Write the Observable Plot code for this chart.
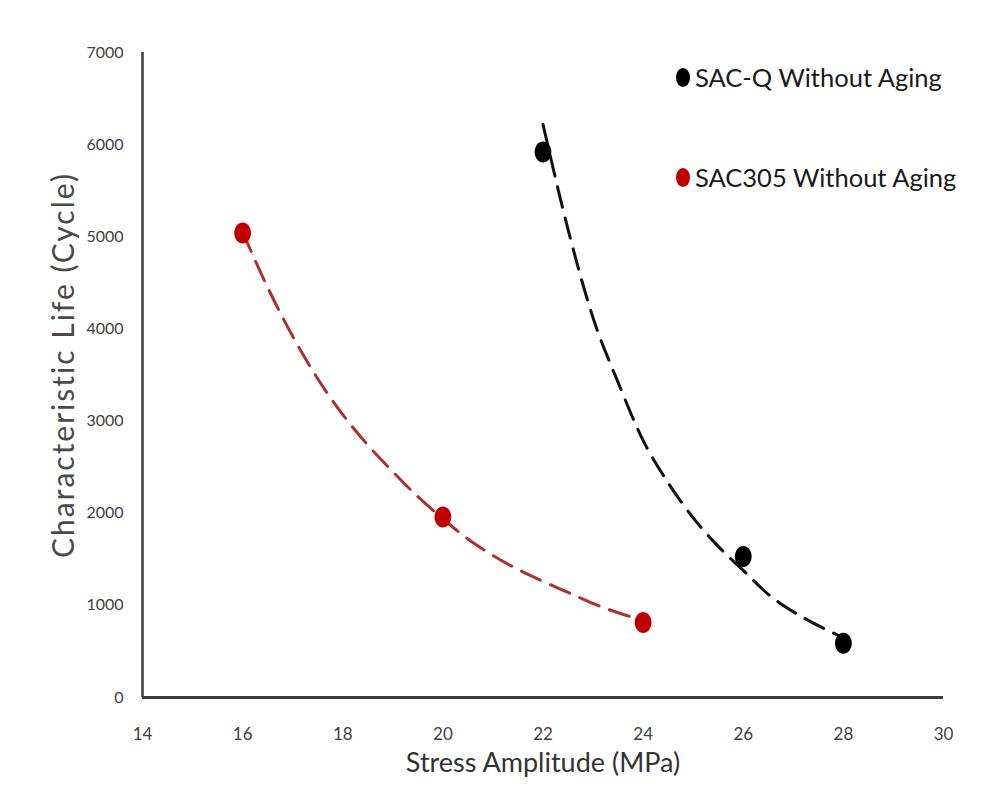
<!DOCTYPE html>
<html>
<head>
<meta charset="utf-8">
<script src="https://cdn.jsdelivr.net/npm/d3@7"></script>
<script src="https://cdn.jsdelivr.net/npm/@observablehq/plot@0.6"></script>
<style>
  html, body { margin: 0; padding: 0; background: #fff; }
  #wrap { position: relative; width: 988px; height: 793px; font-family: Lato, "Open Sans", sans-serif; }
  .leg { position: absolute; display: flex; align-items: center; font-size: 25.5px; color: #1a1a1a; white-space: nowrap; }
  .leg span.sw { display: inline-block; width: 14px; height: 19px; border-radius: 50%; margin-right: 5px; }
</style>
</head>
<body>
<div id="wrap"></div>
<script>
// Measured points
const sacqX = [22, 26, 28];
const sacqY = [5920, 1530, 590];
const sac305X = [16, 20, 24];
const sac305Y = [5040, 1960, 815];

// Trend lines
const sacqTrendX = [22, 22.5, 23, 23.5, 24, 24.5, 25, 25.5, 26, 26.5, 27, 27.5, 28];
const sacqTrendY = [6220, 5080, 4120, 3420, 2790, 2330, 1950, 1640, 1380, 1120, 930, 780, 650];
const sac305TrendX = [16, 16.5, 17, 17.5, 18, 18.5, 19, 19.5, 20, 20.5, 21, 21.5, 22, 22.5, 23, 23.5, 24];
const sac305TrendY = [5050, 4450, 3920, 3460, 3070, 2740, 2450, 2180, 1940, 1720, 1540, 1390, 1260, 1140, 1020, 920, 840];

const xTicks = [14, 16, 18, 20, 22, 24, 26, 28, 30];
const yTicks = [0, 1000, 2000, 3000, 4000, 5000, 6000, 7000];

const seriesNames = ["SAC-Q Without Aging", "SAC305 Without Aging"];
const seriesColors = ["#000000", "#C00000"];
const trendColors = ["#111111", "#B03030"];

const pts = [
  ...sacqX.map((x, i) => ({x, y: sacqY[i], s: seriesNames[0]})),
  ...sac305X.map((x, i) => ({x, y: sac305Y[i], s: seriesNames[1]}))
];
const trendQ = sacqTrendX.map((x, i) => ({x, y: sacqTrendY[i]}));
const trend305 = sac305TrendX.map((x, i) => ({x, y: sac305TrendY[i]}));

// Ellipse symbol (points look slightly taller than wide)
const ellipse = {
  draw(ctx, size) {
    const r = Math.sqrt(size / Math.PI);
    const rx = r * 0.8, ry = r;
    const k = 0.5523;
    ctx.moveTo(rx, 0);
    ctx.bezierCurveTo(rx, ry * k, rx * k, ry, 0, ry);
    ctx.bezierCurveTo(-rx * k, ry, -rx, ry * k, -rx, 0);
    ctx.bezierCurveTo(-rx, -ry * k, -rx * k, -ry, 0, -ry);
    ctx.bezierCurveTo(rx * k, -ry, rx, -ry * k, rx, 0);
    ctx.closePath();
  }
};

const chart = Plot.plot({
  width: 988,
  height: 793,
  marginLeft: 142,
  marginRight: 45,
  marginTop: 52,
  marginBottom: 96,
  style: { fontFamily: "Lato, 'Open Sans', sans-serif", background: "#fff" },
  x: { domain: [14, 30], ticks: xTicks },
  y: { domain: [0, 7000], ticks: yTicks },
  marks: [
    Plot.axisY({ticks: yTicks, tickFormat: "d", tickSize: 0, tickPadding: 19, fontSize: 16, label: null, color: "#404040"}),
    Plot.axisX({ticks: xTicks, tickFormat: "d", tickSize: 0, tickPadding: 30, fontSize: 17, label: null, color: "#404040"}),
    Plot.ruleX([14], {y1: 0, y2: 7000, stroke: "#3c3c3c", strokeWidth: 2.5}),
    Plot.ruleY([0], {x1: 14, x2: 30, stroke: "#3c3c3c", strokeWidth: 3}),
    Plot.line(trendQ, {x: "x", y: "y", stroke: trendColors[0], strokeWidth: 3, strokeDasharray: "21,11", curve: "monotone-x"}),
    Plot.line(trend305, {x: "x", y: "y", stroke: trendColors[1], strokeWidth: 3, strokeDasharray: "21,11", curve: "monotone-x"}),
    Plot.dot(pts, {x: "x", y: "y", fill: "s", r: 10.5, symbol: ellipse, stroke: null}),
    Plot.text(["Stress Amplitude (MPa)"], {frameAnchor: "bottom", dy: 74, fontSize: 27, fill: "#333"}),
    Plot.text(["Characteristic Life (Cycle)"], {frameAnchor: "left", textAnchor: "middle", rotate: -90, dx: -78, dy: -10, fontSize: 30, fill: "#4a4a4a", className: "ytitle"})
  ],
  color: { domain: seriesNames, range: seriesColors }
});

d3.select(chart).selectAll(".ytitle text").attr("letter-spacing", "2px");

const wrap = document.getElementById("wrap");
wrap.appendChild(chart);

// Legend (HTML, overlaid in upper right)
const legendTops = [62, 162];
seriesNames.forEach((name, i) => {
  const d = document.createElement("div");
  d.className = "leg";
  d.style.left = "676px";
  d.style.top = legendTops[i] + "px";
  const sw = document.createElement("span");
  sw.className = "sw";
  sw.style.background = seriesColors[i];
  d.appendChild(sw);
  d.appendChild(document.createTextNode(name));
  wrap.appendChild(d);
});
</script>
</body>
</html>
